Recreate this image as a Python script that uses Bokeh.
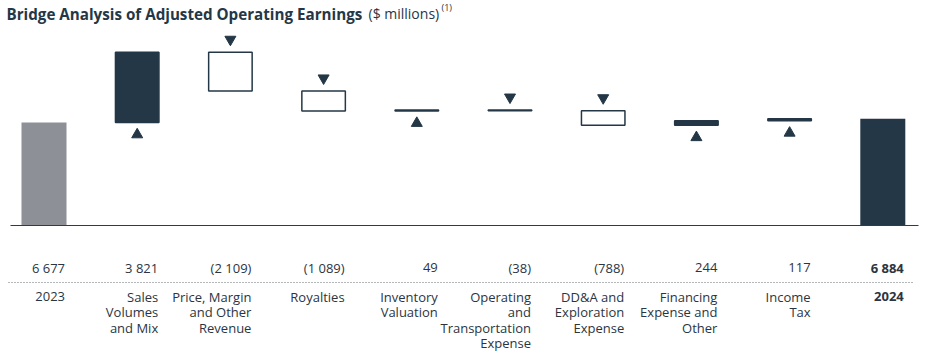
from bokeh.plotting import figure
from bokeh.models import ColumnDataSource, Range1d
from bokeh.core.properties import value
from bokeh.embed import file_html
from bokeh.resources import INLINE

# ---------------- data ----------------
categories = [
    "2023",
    "Sales\nVolumes\nand Mix",
    "Price, Margin\nand Other\nRevenue",
    "Royalties",
    "Inventory\nValuation",
    "Operating\nand\nTransportation\nExpense",
    "DD&A and\nExploration\nExpense",
    "Financing\nExpense and\nOther",
    "Income\nTax",
    "2024",
]
start_value = 6677
changes = [3821, -2109, -1089, 49, -38, -788, 244, 117]
end_value = 6884

title_main = "Bridge Analysis of Adjusted Operating Earnings"
title_unit = "($ millions)"
title_note = "(1)"

# ---------------- style ----------------
NAVY = "#243746"
GRAY = "#8e9098"
TEXT = "#2b353f"
FONT = "Open Sans"

W, H = 929, 352
X0_PX, STEP_PX = 43.5, 93.2   # pixel centre of first bar, bar spacing
BASE_PX = 225                 # pixel row of the baseline
FLOOR = 1060                  # axis value at the baseline
U = 54.5                      # value units per pixel
BAR_W = 45 / STEP_PX


def xd(px):
    return (px - X0_PX) / STEP_PX


def yd(py):
    return FLOOR + (BASE_PX - py) * U


def fmt(v):
    s = f"{abs(v):,}".replace(",", " ")
    return f"({s})" if v < 0 else s


p = figure(width=W, height=H,
           x_range=Range1d(xd(0), xd(W)), y_range=Range1d(yd(H), yd(0)),
           output_backend="svg", toolbar_location=None,
           x_axis_location=None, y_axis_location=None,
           min_border=0, outline_line_color=None,
           background_fill_color="white", border_fill_color="white")
p.grid.visible = False

n = len(categories)
xs = list(range(n))

# ---------------- waterfall geometry ----------------
tot = dict(x=[xs[0], xs[-1]], bottom=[FLOOR, FLOOR], top=[start_value, end_value], color=[GRAY, NAVY])
pos = dict(x=[], bottom=[], top=[])
neg = dict(x=[], bottom=[], top=[])
up = dict(x=[], y=[])
down = dict(x=[], y=[])
running = start_value
for i, c in enumerate(changes, start=1):
    lo, hi = min(running, running + c), max(running, running + c)
    if c >= 0:
        pos["x"].append(i); pos["bottom"].append(lo); pos["top"].append(hi)
        up["x"].append(i); up["y"].append(lo - 12.2 * U)
    else:
        neg["x"].append(i); neg["bottom"].append(lo); neg["top"].append(hi)
        down["x"].append(i); down["y"].append(hi + 12.9 * U)
    running += c

p.vbar(x="x", bottom="bottom", top="top", width=BAR_W, fill_color="color",
       line_color=None, source=ColumnDataSource(tot))
p.vbar(x="x", bottom="bottom", top="top", width=BAR_W - 1.5 / STEP_PX, fill_color=NAVY,
       line_color=NAVY, line_width=1.5, source=ColumnDataSource(pos))
p.vbar(x="x", bottom="bottom", top="top", width=BAR_W - 1.5 / STEP_PX, fill_color="white",
       line_color=NAVY, line_width=1.5, source=ColumnDataSource(neg))

p.scatter(x="x", y="y", marker="triangle", size=11, fill_color=NAVY, line_color=NAVY,
          line_width=1, source=ColumnDataSource(up))
p.scatter(x="x", y="y", marker="inverted_triangle", size=11, fill_color=NAVY, line_color=NAVY,
          line_width=1, source=ColumnDataSource(down))

# baseline and dotted separator
p.line([xd(10), xd(918)], [FLOOR, FLOOR], line_color="#333a40", line_width=1)
p.line([xd(8), xd(913)], [yd(282), yd(282)], line_color="#6b7075", line_width=1, line_dash="1 2")

# ---------------- value labels ----------------
TXT_SHIFT = 5  # px correction for rendered baseline
vals = [start_value] + changes + [end_value]
styles = ["normal"] * (n - 1) + ["bold"]
right = BAR_W / 2 - 1.5 / STEP_PX
p.text(x=[x + right for x in xs], y=[yd(272 - TXT_SHIFT)] * n, text=[fmt(v) for v in vals],
       text_align="right", text_baseline="alphabetic", text_font=value(FONT),
       text_font_size="13px", text_color=TEXT, text_font_style=styles)

# ---------------- category labels (one glyph row per line) ----------------
cx, cy, ct, cs = [], [], [], []
for i, cat in enumerate(categories):
    for k, line in enumerate(cat.split("\n")):
        cx.append(i + right)
        cy.append(yd(301 - TXT_SHIFT + 15.5 * k))
        ct.append(line)
        cs.append(styles[i])
p.text(x="x", y="y", text="text", text_font_style="style",
       source=ColumnDataSource(dict(x=cx, y=cy, text=ct, style=cs)),
       text_align="right", text_baseline="alphabetic", text_font=value(FONT),
       text_font_size="13px", text_color=TEXT)

# ---------------- title ----------------
p.text(x=[xd(6)], y=[yd(18 - TXT_SHIFT)], text=[title_main], text_font=value(FONT), text_font_style="bold",
       text_font_size="15.2px", text_color=NAVY, text_align="left", text_baseline="alphabetic")
p.text(x=[xd(368)], y=[yd(18 - TXT_SHIFT)], text=[title_unit], text_font=value(FONT),
       text_font_size="14px", text_color=NAVY, text_align="left", text_baseline="alphabetic")
p.text(x=[xd(441)], y=[yd(12 - TXT_SHIFT)], text=[title_note], text_font=value(FONT),
       text_font_size="9px", text_color=NAVY, text_align="left", text_baseline="alphabetic")

open("out.html", "w").write(file_html(p, INLINE))
